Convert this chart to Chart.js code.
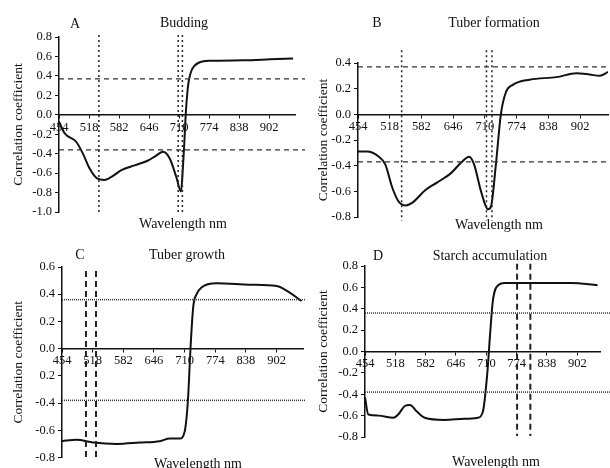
<!DOCTYPE html>
<html>
<head>
<meta charset="utf-8">
<script src="https://cdn.jsdelivr.net/npm/chart.js@4.4.1/dist/chart.umd.min.js"></script>
<style>
body { margin: 0; background: #fff; }
#wrap { position: relative; width: 610px; height: 468px; }
.cell { position: absolute; width: 305px; height: 234px; }
</style>
</head>
<body>
<div id="wrap">
  <div class="cell" style="left:0;top:0"><canvas id="chartA" width="305" height="234"></canvas></div>
  <div class="cell" style="left:305px;top:0"><canvas id="chartB" width="305" height="234"></canvas></div>
  <div class="cell" style="left:0;top:234px"><canvas id="chartC" width="305" height="234"></canvas></div>
  <div class="cell" style="left:305px;top:234px"><canvas id="chartD" width="305" height="234"></canvas></div>
</div>
<script>
// Wavelength tick labels (nm)
var xTicks = [454, 518, 582, 646, 710, 774, 838, 902];

// A - Budding
var waveA = [454, 466, 491, 505, 519, 534, 551, 562, 587, 615, 644, 658, 676, 690, 704, 714, 718, 721, 724, 728, 731, 736, 742, 754, 775, 847, 903, 953];
var corrA = [-0.07, -0.19, -0.28, -0.40, -0.55, -0.65, -0.67, -0.65, -0.57, -0.52, -0.47, -0.43, -0.38, -0.45, -0.64, -0.79, -0.55, -0.30, 0.0, 0.25, 0.36, 0.45, 0.50, 0.54, 0.555, 0.56, 0.57, 0.58];
var vLinesA = [539, 708, 717];
var vSpanA = [0.82, -1.0];
var hLinesA = [0.37, -0.36];
var yTicksA = [-1.0, -0.8, -0.6, -0.4, -0.2, 0.0, 0.2, 0.4, 0.6, 0.8];

// B - Tuber formation
var waveB = [454, 472, 496, 509, 523, 536, 550, 563, 590, 614, 641, 661, 678, 688, 702, 716, 722, 732, 742, 752, 766, 800, 854, 894, 921, 941, 958];
var corrB = [-0.29, -0.29, -0.33, -0.39, -0.57, -0.68, -0.71, -0.69, -0.59, -0.53, -0.46, -0.38, -0.33, -0.39, -0.60, -0.74, -0.72, -0.39, 0.0, 0.17, 0.23, 0.27, 0.29, 0.32, 0.31, 0.30, 0.33];
var vLinesB = [542, 713, 724];
var vSpanB = [0.5, -0.83];
var hLinesB = [0.37, -0.37];
var yTicksB = [-0.8, -0.6, -0.4, -0.2, 0.0, 0.2, 0.4];

// C - Tuber growth
var waveC = [454, 484, 519, 568, 616, 658, 679, 700, 710, 717, 722, 728, 735, 745, 777, 846, 902, 930, 954];
var corrC = [-0.68, -0.67, -0.69, -0.70, -0.69, -0.68, -0.66, -0.66, -0.61, -0.37, -0.01, 0.31, 0.40, 0.45, 0.48, 0.47, 0.46, 0.41, 0.35];
var vLinesC = [504, 525];
var vSpanC = [0.57, -0.8];
var hLinesC = [0.36, -0.38];
var yTicksC = [-0.8, -0.6, -0.4, -0.2, 0.0, 0.2, 0.4, 0.6];
var yLabelsC = ['-0.8', '-0.6', '-0.4', '0.2', '0.0', '0.2', '0.4', '0.6'];

// D - Starch accumulation
var waveD = [454, 461, 482, 514, 524, 538, 549, 563, 580, 622, 664, 692, 703, 712, 718, 724, 735, 749, 819, 889, 945];
var corrD = [-0.43, -0.59, -0.60, -0.62, -0.59, -0.51, -0.50, -0.56, -0.62, -0.64, -0.63, -0.62, -0.56, -0.21, 0.16, 0.48, 0.62, 0.64, 0.64, 0.64, 0.62];
var vLinesD = [775, 803];
var vSpanD = [0.82, -0.79];
var hLinesD = [0.36, -0.38];
var yTicksD = [-0.8, -0.6, -0.4, -0.2, 0.0, 0.2, 0.4, 0.6, 0.8];

var serif = '"Liberation Serif", "DejaVu Serif", serif';
var ink = '#111';

// draws panel letter, panel title and x axis title
var panelText = {
  id: 'panelText',
  afterDraw: function(chart, args, opts) {
    var ctx = chart.ctx;
    ctx.save();
    ctx.fillStyle = ink;
    ctx.font = '14px ' + serif;
    ctx.textAlign = 'center';
    ctx.textBaseline = 'middle';
    opts.items.forEach(function(it) { ctx.fillText(it.text, it.x, it.y); });
    ctx.restore();
  }
};

function fmt(v) {
  var r = Math.round(v * 10) / 10;
  return (r === 0 ? 0 : r).toFixed(1);
}

makePanel = function(id, p) {
  var sets = [];
  p.hLines.forEach(function(h) {
    sets.push({ data: [{x: xTicks[0], y: h}, {x: p.xMax + 40, y: h}],
      borderColor: '#333', borderWidth: p.hWidth, borderDash: p.hDash, pointRadius: 0, clip: false });
  });
  p.vLines.forEach(function(v) {
    sets.push({ data: [{x: v, y: p.vSpan[0]}, {x: v, y: p.vSpan[1]}],
      borderColor: '#222', borderWidth: p.vWidth, borderDash: p.vDash, pointRadius: 0, clip: false });
  });
  sets.push({ data: p.wave.map(function(w, i) { return {x: w, y: p.corr[i]}; }),
    borderColor: ink, borderWidth: 2, pointRadius: 0, cubicInterpolationMode: 'monotone' });

  var ctx = document.getElementById(id).getContext('2d');
  return new Chart(ctx, {
    type: 'line',
    data: { datasets: sets },
    plugins: [panelText],
    options: {
      responsive: false,
      animation: false,
      layout: { padding: p.pad },
      plugins: { legend: { display: false }, tooltip: { enabled: false }, panelText: { items: p.texts } },
      scales: {
        x: {
          type: 'linear', position: { y: 0 }, min: xTicks[0], max: p.xMax,
          afterBuildTicks: function(s) { s.ticks = xTicks.map(function(v) { return {value: v}; }); },
          afterFit: function(s) { s.height = 0; },
          grid: { drawOnChartArea: false, tickLength: 3, color: ink },
          border: { color: ink, width: 1.5 },
          ticks: { autoSkip: false, maxRotation: 0, padding: 2, color: ink, font: { family: serif, size: 12.5 },
            callback: function(v) { return String(v); } }
        },
        y: {
          min: p.yTicks[0], max: p.yTicks[p.yTicks.length - 1],
          afterBuildTicks: function(s) { s.ticks = p.yTicks.map(function(v) { return {value: v}; }); },
          afterFit: function(s) { s.width = p.yWidth; },
          grid: { drawOnChartArea: false, tickLength: 4, color: ink },
          border: { color: ink, width: 1.5 },
          ticks: { padding: 3, color: ink, font: { family: serif, size: 12.5 },
            callback: function(v, i) { return p.yLabels ? p.yLabels[i] : fmt(v); } },
          title: { display: true, text: 'Correlation coefficient', color: ink,
            font: { family: serif, size: 13.5 }, padding: { top: 4, bottom: 0 } }
        }
      }
    }
  });
};

var dotted = [2, 3];
var dashed = [5, 4];
var fine = [1, 1];
var longDash = [6, 4];

makePanel('chartA', {
  wave: waveA, corr: corrA, vLines: vLinesA, vSpan: vSpanA, hLines: hLinesA, yTicks: yTicksA,
  xMax: 957, yWidth: 53, pad: {left: 6, top: 37, right: 10, bottom: 22},
  hDash: dashed, hWidth: 1.2, vDash: dotted, vWidth: 1.5,
  texts: [{text: 'A', x: 75, y: 24}, {text: 'Budding', x: 184, y: 23}, {text: 'Wavelength nm', x: 183, y: 224}]
});

makePanel('chartB', {
  wave: waveB, corr: corrB, vLines: vLinesB, vSpan: vSpanB, hLines: hLinesB, yTicks: yTicksB,
  xMax: 958, yWidth: 47, pad: {left: 6, top: 63, right: 2, bottom: 17},
  hDash: dashed, hWidth: 1.2, vDash: dotted, vWidth: 1.5,
  texts: [{text: 'B', x: 72, y: 23}, {text: 'Tuber formation', x: 189, y: 23}, {text: 'Wavelength nm', x: 194, y: 225}]
});

makePanel('chartC', {
  wave: waveC, corr: corrC, vLines: vLinesC, vSpan: vSpanC, hLines: hLinesC, yTicks: yTicksC, yLabels: yLabelsC,
  xMax: 957, yWidth: 56, pad: {left: 6, top: 33, right: 2, bottom: 7},
  hDash: fine, hWidth: 1.5, vDash: longDash, vWidth: 2,
  texts: [{text: 'C', x: 80, y: 21}, {text: 'Tuber growth', x: 187, y: 21}, {text: 'Wavelength nm', x: 198, y: 230}]
});

makePanel('chartD', {
  wave: waveD, corr: corrD, vLines: vLinesD, vSpan: vSpanD, hLines: hLinesD, yTicks: yTicksD,
  xMax: 950, yWidth: 54, pad: {left: 6, top: 32, right: 10, bottom: 31},
  hDash: fine, hWidth: 1.5, vDash: longDash, vWidth: 2,
  texts: [{text: 'D', x: 73, y: 22}, {text: 'Starch accumulation', x: 185, y: 22}, {text: 'Wavelength nm', x: 191, y: 228}]
});
</script>
</body>
</html>
